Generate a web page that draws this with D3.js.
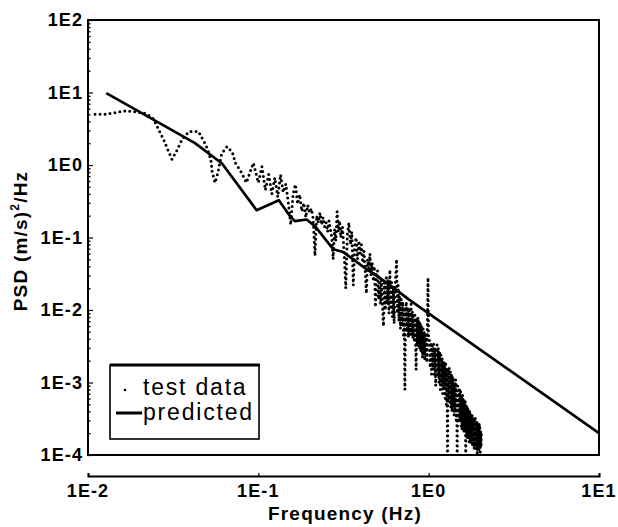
<!DOCTYPE html>
<html>
<head>
<meta charset="utf-8">
<script src="https://cdn.jsdelivr.net/npm/d3@7"></script>
<style>
  html, body { margin: 0; padding: 0; background: #fff; }
  svg { display: block; }
  text { font-family: "Liberation Sans", Arial, Helvetica, sans-serif; fill: #000; }
</style>
</head>
<body>
<svg id="chart" width="618" height="527"></svg>
<script>
// Measured velocity spectrum (frequency in Hz, PSD in (m/s)^2/Hz)
const testFreq = [
  0.0110, 0.0127, 0.0146, 0.0168, 0.0193, 0.0221, 0.0243, 0.0261, 0.0279, 0.0295,
  0.0311, 0.0333, 0.0358, 0.0392, 0.0445, 0.0480, 0.0507, 0.0527, 0.0535, 0.0557,
  0.0577, 0.0610, 0.0655, 0.0703, 0.0736, 0.0798, 0.0851, 0.0935, 0.0966,
  0.100, 0.105, 0.110, 0.115, 0.120, 0.125, 0.130, 0.135, 0.140, 0.145,
  0.150, 0.155, 0.160, 0.165, 0.170, 0.175, 0.180, 0.185, 0.190, 0.195,
  0.200, 0.205, 0.210, 0.215, 0.220, 0.225, 0.230, 0.235, 0.240, 0.245,
  0.250, 0.255, 0.260, 0.265, 0.270, 0.275, 0.280, 0.285, 0.290, 0.295, 0.300,
  0.305, 0.312, 0.319, 0.326, 0.333, 0.340, 0.347, 0.354, 0.361, 0.368,
  0.375, 0.382, 0.389, 0.396, 0.403, 0.410, 0.417, 0.424, 0.431, 0.438,
  0.445, 0.452, 0.459, 0.466, 0.473, 0.480, 0.487, 0.494, 0.501, 0.508,
  0.515, 0.522, 0.529, 0.536, 0.543, 0.550, 0.557, 0.564, 0.571, 0.578,
  0.585, 0.592, 0.599, 0.606, 0.613, 0.620, 0.627, 0.634, 0.641, 0.648,
  0.655, 0.662, 0.669, 0.676, 0.683, 0.690, 0.697, 0.704, 0.711, 0.718,
  0.725, 0.732, 0.739, 0.746, 0.753, 0.760, 0.767, 0.774, 0.781, 0.788,
  0.795, 0.802, 0.809, 0.816, 0.823, 0.830, 0.837, 0.844, 0.851, 0.858,
  0.865, 0.872, 0.879, 0.886, 0.893, 0.900, 0.907, 0.914, 0.921, 0.928,
  0.935, 0.942, 0.949, 0.956, 0.963, 0.970, 0.977, 0.984, 0.991, 0.998,
  1.010, 1.020, 1.030, 1.040, 1.050, 1.060, 1.070, 1.080, 1.090, 1.100,
  1.110, 1.120, 1.130, 1.140, 1.150, 1.160, 1.170, 1.180, 1.190, 1.200,
  1.210, 1.220, 1.230, 1.240, 1.250, 1.260, 1.270, 1.280, 1.290, 1.300,
  1.310, 1.320, 1.330, 1.340, 1.350, 1.360, 1.370, 1.380, 1.390, 1.400,
  1.410, 1.420, 1.430, 1.440, 1.450, 1.460, 1.470, 1.480, 1.490, 1.500,
  1.510, 1.520, 1.530, 1.540, 1.550, 1.560, 1.570, 1.580, 1.590, 1.600,
  1.610, 1.620, 1.630, 1.640, 1.650, 1.660, 1.670, 1.680, 1.690, 1.700,
  1.710, 1.720, 1.730, 1.740, 1.750, 1.760, 1.770, 1.780, 1.790, 1.800,
  1.810, 1.820, 1.830, 1.840, 1.850, 1.860, 1.870, 1.880, 1.890, 1.900,
  1.910, 1.920, 1.930, 1.940, 1.950, 1.960, 1.970, 1.980, 1.990, 2.000,
  2.010, 2.020, 2.030, 2.040
];
const testPsd = [
  5.0, 5.0, 5.3, 5.6, 5.4, 5.1, 4.3, 3.0, 2.2, 1.6,
  1.2, 1.6, 2.3, 2.9, 2.9, 2.1, 1.6, 1.15, 0.82, 0.57,
  0.76, 1.45, 1.8, 1.5, 1.05, 0.78, 0.57, 1.07, 0.79,
  0.57, 0.95, 0.45, 0.74, 0.40, 0.67, 0.36, 0.74, 0.42, 0.55,
  0.30, 0.15, 0.40, 0.54, 0.29, 0.39, 0.23, 0.30, 0.19, 0.28,
  0.22, 0.25, 0.18, 0.056, 0.20, 0.16, 0.22, 0.15, 0.19, 0.14,
  0.16, 0.12, 0.17, 0.13, 0.10, 0.05, 0.13, 0.09, 0.23, 0.12, 0.17,
  0.10, 0.14, 0.06, 0.020, 0.11, 0.16, 0.08, 0.12, 0.022, 0.075,
  0.10, 0.05, 0.09, 0.06, 0.08, 0.045, 0.065, 0.035, 0.017, 0.05,
  0.035, 0.06, 0.03, 0.045, 0.025, 0.04, 0.011, 0.032, 0.035, 0.014,
  0.03, 0.012, 0.026, 0.011, 0.006, 0.024, 0.01, 0.03, 0.012, 0.026,
  0.009, 0.036, 0.011, 0.024, 0.008, 0.02, 0.0065, 0.018, 0.03, 0.05,
  0.009, 0.022, 0.007, 0.016, 0.0055, 0.014, 0.006, 0.013, 0.0045, 0.011,
  0.0008, 0.009, 0.013, 0.005, 0.011, 0.0042, 0.0105, 0.0045, 0.0095, 0.012,
  0.0045, 0.0095, 0.004, 0.009, 0.0038, 0.0085, 0.0035, 0.0015, 0.0078, 0.0033,
  0.008, 0.003, 0.007, 0.0028, 0.0065, 0.0026, 0.006, 0.0028, 0.0022, 0.0055,
  0.0024, 0.005, 0.002, 0.0046, 0.0022, 0.0045, 0.0019, 0.009, 0.028, 0.0042,
  0.0038, 0.0016, 0.0036, 0.0013, 0.0033, 0.0015, 0.0034, 0.0012, 0.003, 0.0009,
  0.0027, 0.0033, 0.0012, 0.003, 0.001, 0.0027, 0.0008, 0.0024, 0.0009, 0.0022,
  0.0007, 0.002, 0.0008, 0.0019, 0.0006, 0.0018, 0.0005, 0.0016, 0.00009, 0.0015,
  0.0006, 0.0016, 0.0005, 0.0014, 0.00045, 0.0013, 0.0004, 0.0012, 0.00045, 0.0011,
  0.00035, 0.001, 0.0004, 0.0011, 0.0003, 0.0009, 0.00009, 0.0009, 0.0003, 0.00085,
  0.00028, 0.0008, 0.0003, 0.00075, 0.00025, 0.0007, 0.00022, 0.00068, 0.00025, 0.0006,
  0.0002, 0.00058, 0.00022, 0.00055, 0.00009, 0.0005, 0.0002, 0.00048, 0.00017, 0.00045,
  0.00018, 0.00042, 0.00015, 0.0004, 0.00016, 0.00038, 0.00014, 0.00035, 0.00015, 0.00036,
  0.00013, 0.00033, 0.00014, 0.00032, 0.00012, 0.0003, 0.00013, 0.00032, 0.00012, 0.00028,
  0.00013, 0.0003, 0.00009, 0.00027, 0.00012, 0.00026, 0.00011, 0.00028, 0.00012, 0.00024,
  0.00011, 0.00022, 0.00013, 0.00021
];

// Model prediction (frequency in Hz, PSD in (m/s)^2/Hz)
const predFreq = [0.0128, 0.0425, 0.0612, 0.0977, 0.132, 0.1535, 0.164, 0.192, 0.215,
                  0.275, 0.315, 0.433, 0.567, 0.76, 10];
const predPsd  = [9.8, 2.0, 1.05, 0.238, 0.327, 0.197, 0.168, 0.177, 0.1435,
                  0.069, 0.063, 0.0364, 0.0239, 0.0141, 0.0002];

// Axis ticks
const xTickValues = [1e-2, 1e-1, 1e0, 1e1];
const xTickLabels = ["1E-2", "1E-1", "1E0", "1E1"];
const yTickValues = [1e-4, 1e-3, 1e-2, 1e-1, 1e0, 1e1, 1e2];
const yTickLabels = ["1E-4", "1E-3", "1E-2", "1E-1", "1E0", "1E1", "1E2"];

const legendLabels = ["test data", "predicted"];

const svg = d3.select("#chart");
const plotL = 88, plotR = 599, plotT = 20, plotB = 455;

const x = d3.scaleLog().domain([1e-2, 1e1]).range([plotL, plotR]);
const y = d3.scaleLog().domain([1e-4, 1e2]).range([plotB, plotT]);

// clip for data
svg.append("defs").append("clipPath").attr("id", "plotClip")
  .append("rect").attr("x", plotL).attr("y", plotT)
  .attr("width", plotR - plotL).attr("height", plotB - plotT + 1);

// Minor y ticks (short dots on the inside of the left axis)
const yMinor = [];
for (let e = -4; e < 2; e++) for (let m = 2; m <= 9; m++) yMinor.push(m * Math.pow(10, e));
const gMinor = svg.append("g").attr("transform", `translate(${plotL},0)`)
  .call(d3.axisLeft(y).tickValues(yMinor).tickSize(-2.5).tickFormat(""));
gMinor.select(".domain").remove();
gMinor.selectAll(".tick line").attr("stroke", "#000").attr("stroke-width", 1.4);

// Major y ticks with labels
const gy = svg.append("g").attr("transform", `translate(${plotL},0)`)
  .call(d3.axisLeft(y).tickValues(yTickValues).tickSize(-5)
    .tickFormat((d, i) => yTickLabels[i]).tickPadding(5));
gy.select(".domain").remove();
gy.selectAll(".tick line").attr("stroke", "#000").attr("stroke-width", 1.2);
gy.selectAll(".tick text")
  .attr("font-size", 18).attr("font-weight", "bold")
  .attr("font-family", "Liberation Sans, Arial, sans-serif")
  .attr("letter-spacing", 1.1);

// Plot frame
svg.append("rect").attr("x", plotL).attr("y", plotT)
  .attr("width", plotR - plotL).attr("height", plotB - plotT)
  .attr("fill", "none").attr("stroke", "#000").attr("stroke-width", 2);

// Detached x axis below the frame
const gx = svg.append("g").attr("transform", `translate(0,476)`)
  .call(d3.axisTop(x).tickValues(xTickValues).tickSize(3).tickFormat(""));
gx.select(".domain").attr("stroke", "#000").attr("stroke-width", 2);
gx.selectAll(".tick line").attr("stroke", "#000").attr("stroke-width", 1.2);
svg.append("g").selectAll("text").data(xTickValues).join("text")
  .attr("x", d => x(d)).attr("y", 497)
  .attr("text-anchor", "middle")
  .attr("font-size", 18).attr("font-weight", "bold").attr("letter-spacing", 1.1)
  .text((d, i) => xTickLabels[i]);

// Axis titles
svg.append("text")
  .attr("x", 345).attr("y", 520).attr("text-anchor", "middle")
  .attr("font-size", 19).attr("font-weight", "bold").attr("letter-spacing", 1.2)
  .text("Frequency (Hz)");

const yt = svg.append("text")
  .attr("transform", "translate(27,241) rotate(-90)")
  .attr("text-anchor", "middle")
  .attr("font-size", 19).attr("font-weight", "bold").attr("letter-spacing", 1.2);
yt.append("tspan").text("PSD (m/s)");
yt.append("tspan").attr("font-size", 12).attr("dy", -8).text("2");
yt.append("tspan").attr("dy", 8).text("/Hz");

// Data
const plot = svg.append("g").attr("clip-path", "url(#plotClip)");
const line = d3.line().x(d => x(d[0])).y(d => y(d[1]));

plot.append("path")
  .datum(testFreq.map((f, i) => [f, testPsd[i]]))
  .attr("d", line)
  .attr("fill", "none").attr("stroke", "#000")
  .attr("stroke-width", 3).attr("stroke-linecap", "round")
  .attr("stroke-dasharray", "0,5");

plot.append("path")
  .datum(predFreq.map((f, i) => [f, predPsd[i]]))
  .attr("d", line)
  .attr("fill", "none").attr("stroke", "#000")
  .attr("stroke-width", 2.7).attr("stroke-linejoin", "round");

// Legend
const lg = svg.append("g");
lg.append("rect").attr("x", 110).attr("y", 365).attr("width", 149).attr("height", 74)
  .attr("fill", "#fff").attr("stroke", "#000").attr("stroke-width", 1.6);
lg.append("line").attr("x1", 110).attr("x2", 260).attr("y1", 365).attr("y2", 365)
  .attr("stroke", "#000").attr("stroke-width", 3);
lg.append("line").attr("x1", 125).attr("x2", 133).attr("y1", 390).attr("y2", 390)
  .attr("stroke", "#000").attr("stroke-width", 2.6).attr("stroke-linecap", "round")
  .attr("stroke-dasharray", "0,8");
lg.append("line").attr("x1", 116).attr("x2", 142).attr("y1", 413).attr("y2", 413)
  .attr("stroke", "#000").attr("stroke-width", 3);
lg.selectAll("text.lab").data(legendLabels).join("text").attr("class", "lab")
  .attr("x", 143).attr("y", (d, i) => 395 + i * 25)
  .attr("font-size", 23).attr("letter-spacing", 1.8)
  .text(d => d);
</script>
</body>
</html>
